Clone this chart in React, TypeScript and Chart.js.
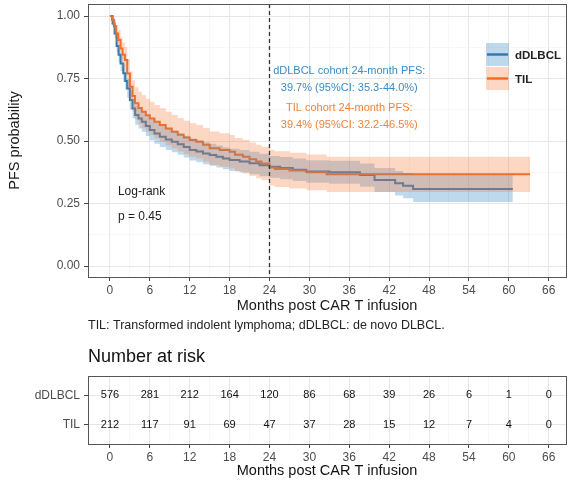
import React, { useEffect, useRef } from 'react';
import { Chart, registerables } from 'chart.js';

Chart.register(...registerables);

const FONT = '"Liberation Sans", Arial, Helvetica, sans-serif';

// ---- axis ticks ----
const xMajorTicks = [0, 6, 12, 18, 24, 30, 36, 42, 48, 54, 60, 66];
const xMinorTicks = [3, 9, 15, 21, 27, 33, 39, 45, 51, 57, 63];
const yMajorTicks = [0, 0.25, 0.5, 0.75, 1];
const yMinorTicks = [0.125, 0.375, 0.625, 0.875];

// ---- dDLBCL KM estimate ----
const dlbclTime = [0, 0.4, 0.7, 1.0, 1.3, 1.6, 2.0, 2.3, 2.6, 3.0, 3.4, 3.8, 4.3, 4.8, 5.4, 6.0, 6.7, 7.5, 8.4, 9.3, 10.2, 11.1, 12.0, 13, 14, 15, 16, 17, 18, 19.5, 21, 22.5, 24, 25.6, 27.5, 29.5, 33, 37.6, 39.8, 42.9, 44.1, 45.6, 60.6];
const dlbclSurv = [1.0, 0.97, 0.93, 0.88, 0.845, 0.81, 0.771, 0.74, 0.71, 0.664, 0.63, 0.604, 0.59, 0.577, 0.56, 0.544, 0.53, 0.517, 0.506, 0.497, 0.487, 0.476, 0.464, 0.458, 0.45, 0.444, 0.437, 0.43, 0.424, 0.418, 0.411, 0.403, 0.397, 0.392, 0.385, 0.378, 0.375, 0.364, 0.344, 0.331, 0.321, 0.308, 0.308];
const dlbclLower = [1.0, 0.955, 0.91, 0.855, 0.815, 0.78, 0.737, 0.705, 0.673, 0.626, 0.591, 0.565, 0.55, 0.537, 0.52, 0.503, 0.489, 0.476, 0.464, 0.455, 0.445, 0.434, 0.422, 0.415, 0.407, 0.401, 0.394, 0.387, 0.38, 0.374, 0.367, 0.359, 0.353, 0.347, 0.34, 0.333, 0.329, 0.317, 0.296, 0.282, 0.271, 0.256, 0.256];
const dlbclUpper = [1.0, 0.985, 0.95, 0.905, 0.875, 0.842, 0.806, 0.776, 0.748, 0.703, 0.67, 0.645, 0.631, 0.619, 0.601, 0.587, 0.573, 0.56, 0.55, 0.541, 0.531, 0.521, 0.51, 0.503, 0.495, 0.489, 0.482, 0.475, 0.469, 0.464, 0.457, 0.449, 0.44, 0.436, 0.43, 0.423, 0.421, 0.41, 0.392, 0.38, 0.372, 0.365, 0.365];

// ---- TIL KM estimate ----
const tilTime = [0, 0.3, 0.6, 0.9, 1.25, 1.6, 1.9, 2.25, 2.6, 3.0, 3.4, 3.76, 4.3, 4.8, 5.4, 6.0, 6.7, 7.5, 8.4, 9.3, 10.2, 11.1, 12.0, 13.0, 14.0, 15.0, 16.5, 18.0, 18.8, 20.0, 21.0, 22.0, 22.8, 24.0, 24.8, 27.0, 29.6, 32.6, 63.2];
const tilSurv = [1.0, 0.985, 0.96, 0.93, 0.904, 0.87, 0.845, 0.824, 0.77, 0.717, 0.68, 0.651, 0.632, 0.617, 0.603, 0.59, 0.577, 0.564, 0.55, 0.537, 0.525, 0.514, 0.504, 0.497, 0.485, 0.471, 0.464, 0.457, 0.445, 0.437, 0.427, 0.418, 0.41, 0.394, 0.388, 0.382, 0.375, 0.367, 0.367];
const tilLower = [1.0, 0.968, 0.934, 0.896, 0.864, 0.825, 0.796, 0.772, 0.713, 0.656, 0.617, 0.587, 0.567, 0.551, 0.537, 0.523, 0.51, 0.497, 0.483, 0.47, 0.458, 0.447, 0.437, 0.43, 0.418, 0.404, 0.397, 0.39, 0.378, 0.37, 0.36, 0.351, 0.343, 0.322, 0.316, 0.31, 0.303, 0.296, 0.296];
const tilUpper = [1.0, 1.0, 0.986, 0.964, 0.944, 0.915, 0.894, 0.876, 0.827, 0.778, 0.743, 0.715, 0.697, 0.683, 0.669, 0.657, 0.644, 0.631, 0.617, 0.604, 0.592, 0.581, 0.571, 0.564, 0.552, 0.538, 0.531, 0.524, 0.512, 0.504, 0.494, 0.485, 0.477, 0.465, 0.459, 0.453, 0.446, 0.437, 0.437];

// ---- number at risk ----
const riskMonths = [0, 6, 12, 18, 24, 30, 36, 42, 48, 54, 60, 66];
const riskDlbcl = [576, 281, 212, 164, 120, 86, 68, 39, 26, 6, 1, 0];
const riskTil = [212, 117, 91, 69, 47, 37, 28, 15, 12, 7, 4, 0];
const groupNames = ['dDLBCL', 'TIL'];

const landmarkMonth = 24;

const BLUE_LINE = '#3274AC';
const BLUE_BAND = 'rgba(56,138,196,0.32)';
const ORANGE_LINE = '#F26A22';
const ORANGE_BAND = 'rgba(245,124,58,0.3)';
const BLUE_TEXT = '#3A8CC6';
const ORANGE_TEXT = '#F08238';
const GRID_MAJOR = '#E6E6E6';
const GRID_MINOR = '#F2F2F2';
const TICK_COLOR = '#444444';
const TICK_LABEL = '#4D4D4D';
const BORDER = '#555555';

const pts = (t: number[], v: number[]) => t.map((x, i) => ({ x, y: v[i] }));
const isIn = (arr: number[], v: any) => v !== undefined && arr.some((a) => Math.abs(a - v) < 1e-6);

function xScale(showLabels: boolean) {
  return {
    type: 'linear',
    min: -3.3,
    max: 68.6,
    afterBuildTicks: (s: any) => {
      s.ticks = [...xMajorTicks, ...xMinorTicks].sort((a, b) => a - b).map((v) => ({ value: v }));
    },
    ticks: {
      autoSkip: false,
      maxRotation: 0,
      padding: 2,
      color: TICK_LABEL,
      font: { family: FONT, size: 12 },
      callback: (v: any) => (showLabels && isIn(xMajorTicks, v) ? String(v) : ''),
    },
    grid: {
      color: (c: any) => (isIn(xMajorTicks, c.tick?.value) ? GRID_MAJOR : GRID_MINOR),
      lineWidth: (c: any) => (isIn(xMajorTicks, c.tick?.value) ? 1 : 0.6),
      tickColor: (c: any) => (isIn(xMajorTicks, c.tick?.value) ? TICK_COLOR : 'rgba(0,0,0,0)'),
      tickLength: 4,
      tickWidth: 1,
    },
    border: { display: false },
  };
}

const mainDecor = {
  id: 'mainDecor',
  afterDatasetsDraw(chart: any) {
    const { ctx, chartArea: a, scales } = chart;
    const xl = scales.x.getPixelForValue(landmarkMonth);
    ctx.save();
    ctx.strokeStyle = '#333333';
    ctx.lineWidth = 1.3;
    ctx.setLineDash([4, 3]);
    ctx.beginPath();
    ctx.moveTo(xl, a.top);
    ctx.lineTo(xl, a.bottom);
    ctx.stroke();
    ctx.restore();
  },
  afterDraw(chart: any) {
    const { ctx, chartArea: a, scales } = chart;
    const X = (v: number) => scales.x.getPixelForValue(v);
    const Y = (v: number) => scales.y.getPixelForValue(v);
    ctx.save();
    ctx.strokeStyle = BORDER;
    ctx.lineWidth = 1;
    ctx.strokeRect(Math.round(a.left) + 0.5, Math.round(a.top) + 0.5, Math.round(a.right - a.left), Math.round(a.bottom - a.top));

    ctx.textBaseline = 'middle';
    // annotations
    ctx.textAlign = 'center';
    ctx.font = `11px ${FONT}`;
    ctx.fillStyle = BLUE_TEXT;
    ctx.fillText('dDLBCL cohort 24-month PFS:', X(36), Y(0.78));
    ctx.fillText('39.7% (95%CI: 35.3-44.0%)', X(36), Y(0.712));
    ctx.fillStyle = ORANGE_TEXT;
    ctx.fillText('TIL cohort 24-month PFS:', X(36), Y(0.632));
    ctx.fillText('39.4% (95%CI: 32.2-46.5%)', X(36), Y(0.564));

    ctx.textAlign = 'left';
    ctx.font = `12px ${FONT}`;
    ctx.fillStyle = '#222222';
    ctx.fillText('Log-rank', X(1.2), Y(0.296));
    ctx.fillText('p = 0.45', X(1.2), Y(0.196));

    // legend
    const lx = a.left + 398;
    const keys = [
      { name: groupNames[0], band: BLUE_BAND, line: BLUE_LINE, top: a.top + 39 },
      { name: groupNames[1], band: ORANGE_BAND, line: ORANGE_LINE, top: a.top + 63 },
    ];
    keys.forEach((k) => {
      ctx.fillStyle = k.band;
      ctx.fillRect(lx, k.top, 23, 23);
      ctx.strokeStyle = k.line;
      ctx.lineWidth = 2.4;
      ctx.beginPath();
      ctx.moveTo(lx + 1, k.top + 11.5);
      ctx.lineTo(lx + 22, k.top + 11.5);
      ctx.stroke();
      ctx.fillStyle = '#222222';
      ctx.font = `bold 11.5px ${FONT}`;
      ctx.textAlign = 'left';
      ctx.fillText(k.name, lx + 29, k.top + 12.5);
    });

    // axis titles
    ctx.fillStyle = '#1a1a1a';
    ctx.font = `14.5px ${FONT}`;
    ctx.textAlign = 'center';
    ctx.fillText('Months post CAR T infusion', (a.left + a.right) / 2, 306);
    ctx.save();
    ctx.translate(15, (a.top + a.bottom) / 2);
    ctx.rotate(-Math.PI / 2);
    ctx.fillText('PFS probability', 0, 0);
    ctx.restore();

    // caption
    ctx.textAlign = 'left';
    ctx.font = `12.5px ${FONT}`;
    ctx.fillStyle = '#222222';
    ctx.fillText('TIL: Transformed indolent lymphoma; dDLBCL: de novo DLBCL.', a.left, 326);
    ctx.restore();
  },
};

const riskDecor = {
  id: 'riskDecor',
  afterDatasetsDraw(chart: any) {
    const { ctx } = chart;
    ctx.save();
    ctx.font = `11px ${FONT}`;
    ctx.fillStyle = '#111111';
    ctx.textAlign = 'center';
    ctx.textBaseline = 'middle';
    chart.data.datasets.forEach((ds: any, di: number) => {
      const meta = chart.getDatasetMeta(di);
      meta.data.forEach((el: any, i: number) => {
        ctx.fillText(String(ds.counts[i]), el.x, el.y);
      });
    });
    ctx.restore();
  },
  afterDraw(chart: any) {
    const { ctx, chartArea: a } = chart;
    ctx.save();
    ctx.strokeStyle = BORDER;
    ctx.lineWidth = 1;
    ctx.strokeRect(Math.round(a.left) + 0.5, Math.round(a.top) + 0.5, Math.round(a.right - a.left), Math.round(a.bottom - a.top));
    ctx.textBaseline = 'middle';
    ctx.fillStyle = '#111111';
    ctx.font = `18px ${FONT}`;
    ctx.textAlign = 'left';
    ctx.fillText('Number at risk', a.left, 17);
    ctx.font = `14.5px ${FONT}`;
    ctx.textAlign = 'center';
    ctx.fillText('Months post CAR T infusion', (a.left + a.right) / 2, 131);
    ctx.restore();
  },
};

export default function App() {
  const mainRef = useRef<HTMLCanvasElement | null>(null);
  const riskRef = useRef<HTMLCanvasElement | null>(null);

  useEffect(() => {
    const band = (data: any, color: string, fill: any) => ({
      data,
      fill,
      backgroundColor: color,
      borderColor: 'rgba(0,0,0,0)',
      borderWidth: 0,
      pointRadius: 0,
      stepped: true,
    });
    const line = (data: any, color: string) => ({
      data,
      fill: false,
      borderColor: color,
      borderWidth: 2,
      pointRadius: 0,
      stepped: true,
    });

    const main = new Chart(mainRef.current as HTMLCanvasElement, {
      type: 'line',
      data: {
        datasets: [
          band(pts(tilTime, tilUpper), ORANGE_BAND, '+1'),
          band(pts(tilTime, tilLower), ORANGE_BAND, false),
          band(pts(dlbclTime, dlbclUpper), BLUE_BAND, '+1'),
          band(pts(dlbclTime, dlbclLower), BLUE_BAND, false),
          line(pts(tilTime, tilSurv), ORANGE_LINE),
          line(pts(dlbclTime, dlbclSurv), BLUE_LINE),
        ] as any,
      },
      options: {
        responsive: false,
        animation: false,
        events: [],
        layout: { padding: { left: 0, top: 4, right: 10, bottom: 0 } },
        plugins: { legend: { display: false }, tooltip: { enabled: false } },
        scales: {
          x: {
            ...(xScale(true) as any),
            afterFit: (s: any) => {
              s.height = 63;
              s.paddingLeft = 0; s.paddingRight = 0; s.paddingTop = 0; s.paddingBottom = 0;
            },
          },
          y: {
            type: 'linear',
            min: -0.044,
            max: 1.048,
            afterBuildTicks: (s: any) => {
              s.ticks = [...yMajorTicks, ...yMinorTicks].sort((a, b) => a - b).map((v) => ({ value: v }));
            },
            afterFit: (s: any) => {
              s.width = 88;
              s.paddingLeft = 0; s.paddingRight = 0; s.paddingTop = 0; s.paddingBottom = 0;
            },
            ticks: {
              autoSkip: false,
              padding: 4,
              color: TICK_LABEL,
              font: { family: FONT, size: 12 },
              callback: (v: any) => (isIn(yMajorTicks, v) ? Number(v).toFixed(2) : ''),
            },
            grid: {
              color: (c: any) => (isIn(yMajorTicks, c.tick?.value) ? GRID_MAJOR : GRID_MINOR),
              lineWidth: (c: any) => (isIn(yMajorTicks, c.tick?.value) ? 1 : 0.6),
              tickColor: (c: any) => (isIn(yMajorTicks, c.tick?.value) ? TICK_COLOR : 'rgba(0,0,0,0)'),
              tickLength: 4,
              tickWidth: 1,
            },
            border: { display: false },
          },
        } as any,
      },
      plugins: [mainDecor],
    });

    const rowValue = (name: string) => groupNames.length - groupNames.indexOf(name);
    const risk = new Chart(riskRef.current as HTMLCanvasElement, {
      type: 'scatter',
      data: {
        datasets: [
          { data: riskMonths.map((m) => ({ x: m, y: rowValue('dDLBCL') })), counts: riskDlbcl, pointRadius: 0 },
          { data: riskMonths.map((m) => ({ x: m, y: rowValue('TIL') })), counts: riskTil, pointRadius: 0 },
        ] as any,
      },
      options: {
        responsive: false,
        animation: false,
        events: [],
        layout: { padding: { left: 0, top: 36, right: 10, bottom: 0 } },
        plugins: { legend: { display: false }, tooltip: { enabled: false } },
        scales: {
          x: {
            ...(xScale(true) as any),
            afterFit: (s: any) => {
              s.height = 43;
              s.paddingLeft = 0; s.paddingRight = 0; s.paddingTop = 0; s.paddingBottom = 0;
            },
          },
          y: {
            type: 'linear',
            min: 0.35,
            max: 2.65,
            afterBuildTicks: (s: any) => {
              s.ticks = groupNames.map((n) => ({ value: rowValue(n) }));
            },
            afterFit: (s: any) => {
              s.width = 88;
              s.paddingLeft = 0; s.paddingRight = 0; s.paddingTop = 0; s.paddingBottom = 0;
            },
            ticks: {
              autoSkip: false,
              padding: 4,
              color: TICK_LABEL,
              font: { family: FONT, size: 12 },
              callback: (v: any) => groupNames.find((n) => rowValue(n) === v) || '',
            },
            grid: {
              color: GRID_MAJOR,
              lineWidth: 1,
              tickColor: TICK_COLOR,
              tickLength: 4,
              tickWidth: 1,
            },
            border: { display: false },
          },
        } as any,
      },
      plugins: [riskDecor],
    });

    return () => {
      main.destroy();
      risk.destroy();
    };
  }, []);

  return (
    <div style={{ position: 'fixed', left: 0, top: 0, width: 576, height: 487, background: '#fff' }}>
      <canvas ref={mainRef} width={576} height={340} style={{ display: 'block', width: 576, height: 340 }} />
      <canvas ref={riskRef} width={576} height={147} style={{ display: 'block', width: 576, height: 147 }} />
    </div>
  );
}
